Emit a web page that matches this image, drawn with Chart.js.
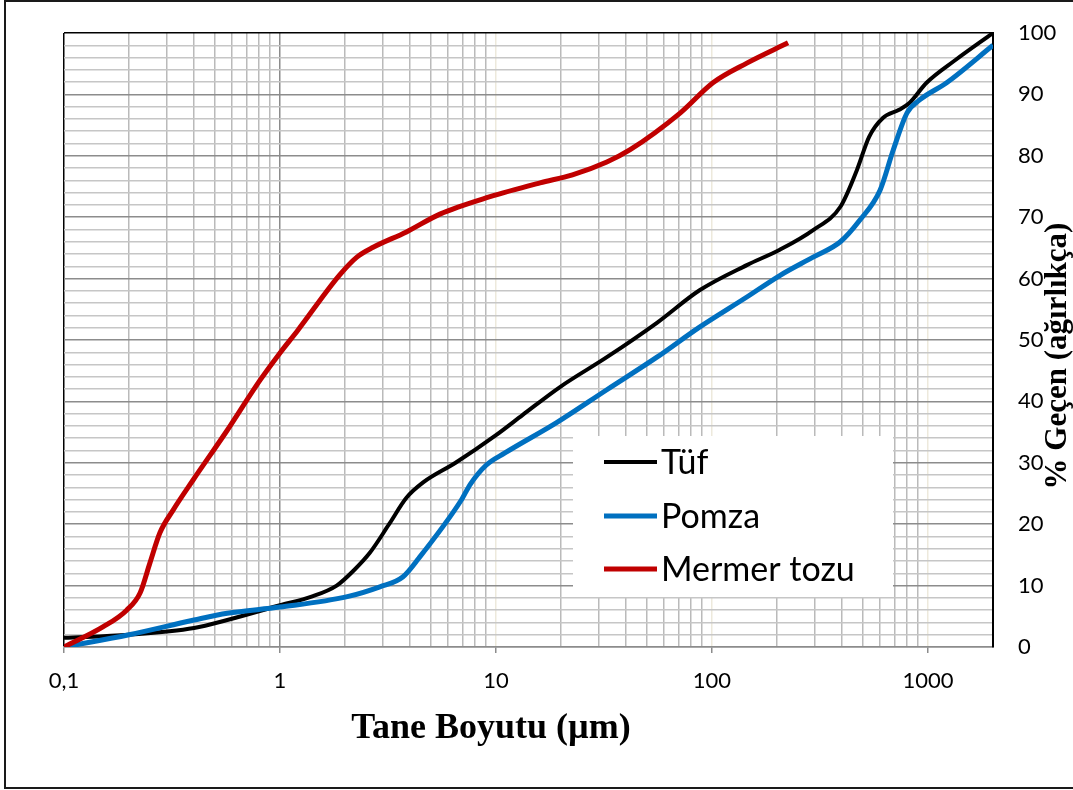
<!DOCTYPE html>
<html>
<head>
<meta charset="utf-8">
<script src="https://cdn.jsdelivr.net/npm/chart.js@4"></script>
<style>
  body { margin: 0; background: #fff; }
  #wrap { position: relative; width: 1073px; height: 790px; }
</style>
</head>
<body>
<div id="wrap"><canvas id="chart" width="1073" height="790"></canvas></div>
<script>
// DATA
const seriesNames = ['Tüf', 'Pomza', 'Mermer tozu'];

const tufX = [0.1, 0.2, 0.4, 0.57, 1, 1.4, 1.83, 2.2, 2.6, 3.2, 3.85, 4.6, 6.5, 10, 13.3, 19.7, 32.6, 55.6, 87.6, 145, 206, 294, 393, 469, 534, 620, 735, 820, 985, 1340, 2000];
const tufY = [1.5, 2.0, 3.1, 4.4, 6.8, 8.2, 10, 12.5, 15.3, 20, 24.3, 26.8, 30, 34.5, 37.8, 42.3, 47.2, 52.8, 58.1, 62.2, 64.7, 67.9, 71.7, 77.7, 83.1, 86.2, 87.5, 88.6, 91.9, 95.6, 100];

const pomzaX = [0.1, 0.2, 0.4, 0.57, 1, 2.05, 2.9, 3.7, 4.4, 6.9, 7.6, 9.0, 11, 19, 32.6, 55.6, 87.6, 145, 206, 294, 393, 483, 600, 690, 800, 915, 1220, 2000];
const pomzaY = [0, 2.0, 4.4, 5.5, 6.5, 8.2, 9.8, 11.4, 14.5, 23.9, 26.5, 29.6, 31.6, 36.5, 41.9, 47.2, 52.1, 57.0, 60.5, 63.5, 66.0, 69.5, 74.4, 80.9, 87.0, 89.1, 91.9, 98.0];

const mermerX = [0.1, 0.152, 0.195, 0.225, 0.25, 0.278, 0.32, 0.396, 0.57, 0.81, 1.0, 1.21, 1.89, 2.27, 2.7, 3.85, 5.5, 9.3, 16, 22.6, 32.6, 41.8, 71.4, 101, 145, 225];
const mermerY = [0, 3.3, 6.0, 8.8, 13.7, 18.6, 22.3, 27.2, 35.3, 43.5, 47.9, 51.6, 60.6, 63.5, 65.1, 67.6, 70.5, 73.3, 75.6, 76.9, 79.0, 81, 87.0, 91.9, 95.1, 98.4];

const xDecades = [0.1, 1, 10, 100, 1000];
const xTickLabels = ['0,1', '1', '10', '100', '1000'];
const xMin = 0.1, xMax = 2000;
const yMin = 0, yMax = 100;

const xTitle = 'Tane Boyutu (µm)';
const yTitle = '% Geçen (ağırlıkça)';

// minor grid positions 1..9 per decade, inside the axis range
const gridX = [];
xDecades.forEach(d => { for (let i = 1; i < 10; i++) gridX.push(+(d * i).toPrecision(3)); });
const gridXIn = gridX.filter(v => v <= xMax);

const pts = (xs, ys) => xs.map((x, i) => ({ x: x, y: ys[i] }));
const isDecade = v => xDecades.some(d => Math.abs(d - v) < d * 1e-6);

const tickFont = { family: 'Lato', size: 22 };

// legend box + axis titles + frame
const extras = {
    id: 'extras',
    afterDatasetsDraw(chart) {
        const c = chart.ctx;
        c.save();
        c.fillStyle = '#fff';
        c.fillRect(573, 436, 320, 161);
        const rows = [462, 516, 569];
        c.font = '34px Lato';
        c.textBaseline = 'middle';
        chart.data.datasets.forEach((ds, i) => {
            c.strokeStyle = ds.borderColor;
            c.lineWidth = ds.borderWidth;
            c.beginPath();
            c.moveTo(604, rows[i]);
            c.lineTo(657, rows[i]);
            c.stroke();
            c.fillStyle = '#000';
            c.fillText(ds.label, 661, rows[i] + 1);
        });
        c.restore();
    },
    afterDraw(chart) {
        const c = chart.ctx;
        c.save();
        c.fillStyle = '#000';
        c.font = 'bold 36px "Liberation Serif"';
        c.textAlign = 'center';
        c.textBaseline = 'alphabetic';
        c.fillText(xTitle, 491, 738);
        c.translate(1066, 356);
        c.rotate(-Math.PI / 2);
        c.font = 'bold 31px "Liberation Serif"';
        c.fillText(yTitle, 0, 0);
        c.restore();
        c.save();
        c.strokeStyle = '#1a1a1a';
        c.lineWidth = 2;
        c.strokeRect(5, 1, 1100, 787);
        c.restore();
    }
};

new Chart(document.getElementById('chart'), {
    type: 'line',
    data: {
        datasets: [
            { label: seriesNames[0], data: pts(tufX, tufY), borderColor: '#000000', borderWidth: 4, order: 3 },
            { label: seriesNames[1], data: pts(pomzaX, pomzaY), borderColor: '#0070C0', borderWidth: 5, order: 2 },
            { label: seriesNames[2], data: pts(mermerX, mermerY), borderColor: '#C00000', borderWidth: 5, order: 1 }
        ]
    },
    options: {
        responsive: false,
        animation: false,
        elements: { point: { radius: 0 }, line: { cubicInterpolationMode: 'monotone' } },
        layout: { padding: { left: 64, top: 33, right: 0, bottom: 0 } },
        plugins: { legend: { display: false }, tooltip: { enabled: false } },
        scales: {
            x: {
                type: 'logarithmic',
                min: xMin,
                max: xMax,
                afterBuildTicks: s => { s.ticks = gridXIn.map(v => ({ value: v })); },
                afterFit: s => { s.height = 790 - 647; },
                ticks: {
                    autoSkip: false,
                    maxRotation: 0,
                    color: '#000',
                    font: tickFont,
                    padding: 15,
                    callback: v => {
                        const i = xDecades.findIndex(d => Math.abs(d - v) < d * 1e-6);
                        return i >= 0 ? xTickLabels[i] : '';
                    }
                },
                grid: {
                    lineWidth: 1.5,
                    tickLength: 6,
                    color: ctx => {
                        const v = ctx.tick ? ctx.tick.value : 0;
                        if (Math.abs(v - 0.1) < 1e-6 || v === xMax) return '#000';
                        if (v === 1) return '#8c8c8c';
                        if (v === 10 || v === 100 || v === 1000) return '#ede9dc';
                        return '#bababa';
                    },
                    tickColor: ctx => (ctx.tick && isDecade(ctx.tick.value) ? '#8c8c8c' : 'rgba(0,0,0,0)')
                },
                border: { display: true, color: '#8c8c8c', width: 1.5 }
            },
            y: {
                position: 'right',
                min: yMin,
                max: yMax,
                afterFit: s => { s.width = 1073 - 993; },
                ticks: {
                    stepSize: 2,
                    autoSkip: false,
                    color: '#000',
                    font: tickFont,
                    padding: 0,
                    callback: v => (v % 10 === 0 ? String(v) : '')
                },
                grid: {
                    lineWidth: 1.5,
                    drawTicks: true,
                    tickLength: 25,
                    tickColor: 'rgba(0,0,0,0)',
                    color: ctx => {
                        const v = ctx.tick ? ctx.tick.value : 0;
                        if (v === yMax) return '#000';
                        if (v % 10 === 0) return '#8c8c8c';
                        return '#c6c6c6';
                    }
                },
                border: { display: true, color: '#000', width: 2 }
            }
        }
    },
    plugins: [extras]
});
</script>
</body>
</html>
